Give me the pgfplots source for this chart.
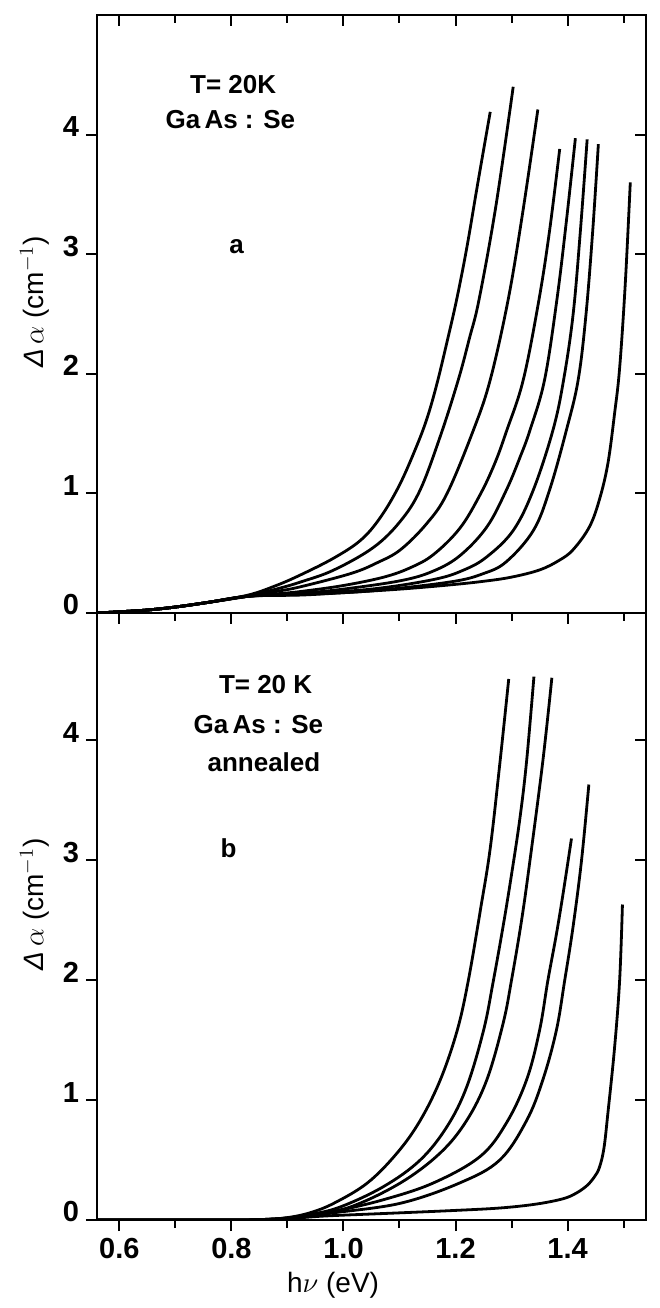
\documentclass[border=0pt]{standalone}
\usepackage{fontspec}
\setmainfont{Liberation Sans}
\usepackage{pgfplots}
\pgfplotsset{compat=1.18}

\pgfplotsset{
  panel/.style={
    scale only axis,
    width=274.5pt,
    xmin=0.56, xmax=1.54, ymin=0,
    axis line style={line width=1.1pt},
    every tick/.style={black, line width=1pt},
    major tick length=5.5pt,
    minor tick length=4pt,
    xtick={0.6,0.8,1.0,1.2,1.4},
    minor xtick={0.7,0.9,1.1,1.3,1.5},
    ytick={0,1,2,3,4},
    tick label style={font=\fontsize{14.5}{14.5}\selectfont\bfseries},
    label style={font=\fontsize{14}{14}\selectfont},
  },
  main/.style={panel, tick align=outside, xtick pos=left, ytick pos=left,
    yticklabels={0,1,2,3,4},
    yticklabel style={yshift=4pt},
    ylabel={{\itshape Δ}\,$\alpha$ (cm$^{-1}$)},
    ylabel style={at={(ticklabel cs:0.52)}},
  },
  over/.style={panel, tick align=inside, xtick pos=right, ytick pos=right,
    axis line style={draw=none},
    xticklabels={}, yticklabels={},
  },
  curve/.style={black, line width=1.4pt, smooth, tension=0.6, mark=none},
}
\tikzset{note/.style={font=\fontsize{13}{13}\selectfont\bfseries}}

\begin{document}
\begin{tikzpicture}
% ---------- panel a ----------
\begin{axis}[main, name=a, height=299pt, ymax=5.0, xticklabels={}]
\addplot[curve] coordinates {(0.56,0)(0.60,0.01)(0.65,0.025)(0.70,0.05)(0.76,0.09)(0.83,0.15)(0.88,0.23)(0.924,0.32)(0.983,0.46)(1.031,0.61)(1.066,0.80)(1.10,1.07)(1.131,1.40)(1.150,1.64)(1.167,1.92)(1.185,2.27)(1.202,2.62)(1.220,3.05)(1.240,3.6)(1.262,4.19)};
\addplot[curve] coordinates {(0.56,0)(0.60,0.01)(0.65,0.025)(0.70,0.05)(0.76,0.09)(0.83,0.145)(0.88,0.2)(0.924,0.26)(0.983,0.36)(1.054,0.55)(1.102,0.77)(1.137,1.03)(1.173,1.48)(1.205,1.95)(1.225,2.3)(1.242,2.62)(1.272,3.4)(1.303,4.40)};
\addplot[curve] coordinates {(0.56,0)(0.60,0.01)(0.65,0.025)(0.70,0.05)(0.76,0.09)(0.83,0.14)(0.88,0.18)(0.924,0.22)(1.013,0.33)(1.06,0.42)(1.102,0.53)(1.149,0.75)(1.185,1.0)(1.232,1.53)(1.262,1.95)(1.294,2.62)(1.32,3.35)(1.347,4.21)};
\addplot[curve] coordinates {(0.56,0)(0.60,0.01)(0.65,0.025)(0.70,0.05)(0.76,0.09)(0.83,0.14)(0.88,0.16)(0.924,0.18)(1.0,0.23)(1.072,0.30)(1.12,0.38)(1.161,0.49)(1.208,0.71)(1.244,0.99)(1.27,1.25)(1.291,1.52)(1.321,1.95)(1.349,2.62)(1.368,3.2)(1.386,3.88)};
\addplot[curve] coordinates {(0.56,0)(0.60,0.01)(0.65,0.025)(0.70,0.05)(0.76,0.09)(0.83,0.14)(0.924,0.165)(1.0,0.2)(1.102,0.27)(1.16,0.35)(1.208,0.48)(1.256,0.72)(1.291,1.03)(1.315,1.3)(1.333,1.53)(1.359,1.95)(1.381,2.62)(1.398,3.28)(1.414,3.97)};
\addplot[curve] coordinates {(0.56,0)(0.60,0.01)(0.65,0.025)(0.70,0.05)(0.76,0.09)(0.83,0.14)(0.924,0.16)(1.05,0.2)(1.161,0.28)(1.215,0.36)(1.256,0.47)(1.303,0.69)(1.339,1.03)(1.374,1.53)(1.393,1.95)(1.41,2.5)(1.423,3.2)(1.435,3.96)};
\addplot[curve] coordinates {(0.56,0)(0.60,0.01)(0.65,0.025)(0.70,0.05)(0.76,0.09)(0.83,0.14)(0.924,0.155)(1.05,0.185)(1.191,0.26)(1.25,0.33)(1.291,0.43)(1.339,0.69)(1.368,1.03)(1.398,1.53)(1.419,1.95)(1.433,2.5)(1.445,3.2)(1.455,3.92)};
\addplot[curve] coordinates {(0.56,0)(0.60,0.01)(0.65,0.025)(0.70,0.05)(0.76,0.09)(0.83,0.14)(0.924,0.15)(1.0,0.17)(1.102,0.2)(1.19,0.235)(1.25,0.265)(1.30,0.3)(1.350,0.36)(1.385,0.44)(1.410,0.53)(1.439,0.72)(1.457,0.95)(1.472,1.25)(1.484,1.67)(1.493,2.05)(1.503,2.75)(1.512,3.60)};
\node[note] at (axis cs:0.803,4.42) {T= 20K};
\node[note] at (axis cs:0.798,4.13) {Ga\,As : Se};
\node[note] at (axis cs:0.809,3.06) {a};
\end{axis}
\begin{axis}[over, height=299pt, ymax=5.0]
\end{axis}
% ---------- panel b ----------
\begin{axis}[main, name=b, height=303.5pt, ymax=5.06,
  at={(a.south west)}, anchor=north west,
  xticklabels={0.6,0.8,1.0,1.2,1.4},
  xlabel={h$\nu$ (eV)},
  xlabel style={at={(ticklabel cs:0.43)}}]
\addplot[curve] coordinates {(0.56,0)(0.80,0)(0.86,0.005)(0.90,0.02)(0.94,0.06)(0.983,0.14)(1.043,0.31)(1.096,0.56)(1.137,0.83)(1.173,1.17)(1.203,1.58)(1.223,2.0)(1.245,2.6)(1.262,3.1)(1.279,3.8)(1.295,4.51)};
\addplot[curve] coordinates {(0.56,0)(0.80,0)(0.86,0.005)(0.90,0.018)(0.94,0.045)(0.995,0.11)(1.072,0.28)(1.137,0.50)(1.185,0.78)(1.220,1.11)(1.250,1.58)(1.267,1.98)(1.285,2.45)(1.300,2.88)(1.315,3.35)(1.327,3.83)(1.340,4.53)};
\addplot[curve] coordinates {(0.56,0)(0.80,0)(0.86,0.005)(0.90,0.016)(0.94,0.04)(1.013,0.11)(1.102,0.31)(1.173,0.56)(1.220,0.83)(1.256,1.17)(1.285,1.64)(1.300,2.0)(1.318,2.5)(1.333,3.0)(1.356,3.83)(1.372,4.52)};
\addplot[curve] coordinates {(0.56,0)(0.80,0)(0.86,0.004)(0.90,0.014)(0.94,0.035)(0.983,0.07)(1.072,0.17)(1.161,0.31)(1.244,0.53)(1.291,0.81)(1.327,1.17)(1.350,1.58)(1.365,2.0)(1.38,2.38)(1.392,2.72)(1.407,3.18)};
\addplot[curve] coordinates {(0.56,0)(0.80,0)(0.86,0.004)(0.90,0.013)(0.94,0.03)(0.983,0.06)(1.102,0.14)(1.208,0.31)(1.279,0.50)(1.327,0.83)(1.356,1.17)(1.380,1.58)(1.395,2.0)(1.41,2.45)(1.425,3.0)(1.438,3.63)};
\addplot[curve] coordinates {(0.56,0)(0.80,0)(0.86,0.003)(0.90,0.01)(0.94,0.025)(0.983,0.037)(1.102,0.06)(1.20,0.08)(1.279,0.10)(1.34,0.13)(1.386,0.17)(1.41,0.21)(1.433,0.28)(1.448,0.36)(1.457,0.44)(1.465,0.6)(1.472,0.89)(1.484,1.44)(1.493,2.0)(1.498,2.63)};
\node[note] at (axis cs:0.861,4.46) {T= 20 K};
\node[note] at (axis cs:0.848,4.13) {Ga\,As : Se};
\node[note] at (axis cs:0.858,3.82) {annealed};
\node[note] at (axis cs:0.795,3.10) {b};
\end{axis}
\begin{axis}[over, height=303.5pt, ymax=5.06,
  at={(a.south west)}, anchor=north west, xtick=\empty, minor xtick={}]
\end{axis}
\path ([xshift=-48.5pt,yshift=7.5pt]a.north west) rectangle ([xshift=1pt,yshift=-44pt]b.south east);
\end{tikzpicture}
\end{document}
